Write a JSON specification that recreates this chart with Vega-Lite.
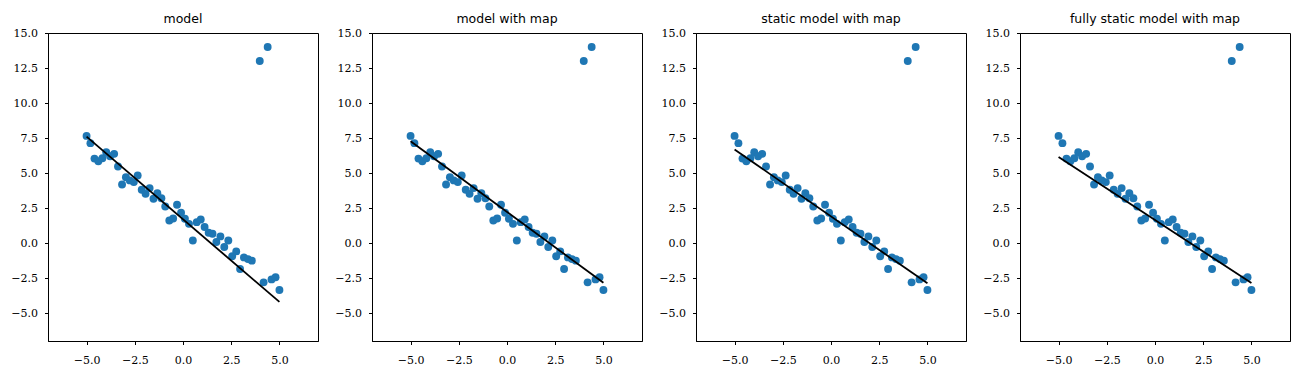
{
  "$schema": "https://vega.github.io/schema/vega-lite/v6.json",
  "padding": {"left": 10, "top": 12, "right": 5, "bottom": 5},
  "bounds": "flush",
  "spacing": 54,
  "datasets": {
    "pts": [
      {"x": -5.00, "y": 7.65}, {"x": -4.80, "y": 7.13}, {"x": -4.59, "y": 6.03}, {"x": -4.39, "y": 5.84},
      {"x": -4.18, "y": 6.05}, {"x": -3.98, "y": 6.49}, {"x": -3.78, "y": 6.2}, {"x": -3.57, "y": 6.37},
      {"x": -3.37, "y": 5.46}, {"x": -3.16, "y": 4.18}, {"x": -2.96, "y": 4.70}, {"x": -2.76, "y": 4.47},
      {"x": -2.55, "y": 4.35}, {"x": -2.35, "y": 4.82}, {"x": -2.14, "y": 3.80}, {"x": -1.94, "y": 3.51},
      {"x": -1.73, "y": 3.92}, {"x": -1.53, "y": 3.16}, {"x": -1.33, "y": 3.56}, {"x": -1.12, "y": 3.20},
      {"x": -0.92, "y": 2.61}, {"x": -0.71, "y": 1.61}, {"x": -0.51, "y": 1.75}, {"x": -0.31, "y": 2.73},
      {"x": -0.10, "y": 2.16}, {"x": 0.10, "y": 1.73}, {"x": 0.31, "y": 1.37}, {"x": 0.51, "y": 0.18},
      {"x": 0.71, "y": 1.49}, {"x": 0.92, "y": 1.68}, {"x": 1.12, "y": 1.14}, {"x": 1.33, "y": 0.73},
      {"x": 1.53, "y": 0.66}, {"x": 1.73, "y": 0.07}, {"x": 1.94, "y": 0.47}, {"x": 2.14, "y": -0.29},
      {"x": 2.35, "y": 0.18}, {"x": 2.55, "y": -0.95}, {"x": 2.76, "y": -0.6}, {"x": 2.96, "y": -1.86},
      {"x": 3.16, "y": -1.03}, {"x": 3.37, "y": -1.15}, {"x": 3.57, "y": -1.26}, {"x": 3.98, "y": 13.0},
      {"x": 4.18, "y": -2.81}, {"x": 4.39, "y": 14.0}, {"x": 4.59, "y": -2.6}, {"x": 4.80, "y": -2.45},
      {"x": 5.00, "y": -3.36}
    ],
    "lines": [
      {"panel": "model", "x": -5, "y": 7.6}, {"panel": "model", "x": 5, "y": -4.21},
      {"panel": "model with map", "x": -5, "y": 7.27}, {"panel": "model with map", "x": 5, "y": -2.84},
      {"panel": "static model with map", "x": -5, "y": 6.68}, {"panel": "static model with map", "x": 5, "y": -2.88},
      {"panel": "fully static model with map", "x": -5, "y": 6.15}, {"panel": "fully static model with map", "x": 5, "y": -2.86}
    ]
  },
  "hconcat": [
    {
      "width": 270, "height": 308, "title": "model",
      "encoding": {
        "x": {"field": "x", "type": "quantitative", "scale": {"domain": [-7, 7], "nice": false, "zero": false}, "axis": {"values": [-5, -2.5, 0, 2.5, 5], "format": ".1f", "title": null}},
        "y": {"field": "y", "type": "quantitative", "scale": {"domain": [-7, 15], "nice": false, "zero": false}, "axis": {"values": [-5, -2.5, 0, 2.5, 5, 7.5, 10, 12.5, 15], "format": ".1f", "title": null}}
      },
      "layer": [
        {"data": {"name": "pts"}, "mark": {"type": "circle", "size": 62, "opacity": 1, "color": "#1f77b4"}},
        {"data": {"name": "lines"}, "transform": [{"filter": "datum.panel === 'model'"}], "mark": {"type": "line", "color": "black", "strokeWidth": 1.8}}
      ]
    },
    {
      "width": 270, "height": 308, "title": "model with map",
      "encoding": {
        "x": {"field": "x", "type": "quantitative", "scale": {"domain": [-7, 7], "nice": false, "zero": false}, "axis": {"values": [-5, -2.5, 0, 2.5, 5], "format": ".1f", "title": null}},
        "y": {"field": "y", "type": "quantitative", "scale": {"domain": [-7, 15], "nice": false, "zero": false}, "axis": {"values": [-5, -2.5, 0, 2.5, 5, 7.5, 10, 12.5, 15], "format": ".1f", "title": null}}
      },
      "layer": [
        {"data": {"name": "pts"}, "mark": {"type": "circle", "size": 62, "opacity": 1, "color": "#1f77b4"}},
        {"data": {"name": "lines"}, "transform": [{"filter": "datum.panel === 'model with map'"}], "mark": {"type": "line", "color": "black", "strokeWidth": 1.8}}
      ]
    },
    {
      "width": 270, "height": 308, "title": "static model with map",
      "encoding": {
        "x": {"field": "x", "type": "quantitative", "scale": {"domain": [-7, 7], "nice": false, "zero": false}, "axis": {"values": [-5, -2.5, 0, 2.5, 5], "format": ".1f", "title": null}},
        "y": {"field": "y", "type": "quantitative", "scale": {"domain": [-7, 15], "nice": false, "zero": false}, "axis": {"values": [-5, -2.5, 0, 2.5, 5, 7.5, 10, 12.5, 15], "format": ".1f", "title": null}}
      },
      "layer": [
        {"data": {"name": "pts"}, "mark": {"type": "circle", "size": 62, "opacity": 1, "color": "#1f77b4"}},
        {"data": {"name": "lines"}, "transform": [{"filter": "datum.panel === 'static model with map'"}], "mark": {"type": "line", "color": "black", "strokeWidth": 1.8}}
      ]
    },
    {
      "width": 270, "height": 308, "title": "fully static model with map",
      "encoding": {
        "x": {"field": "x", "type": "quantitative", "scale": {"domain": [-7, 7], "nice": false, "zero": false}, "axis": {"values": [-5, -2.5, 0, 2.5, 5], "format": ".1f", "title": null}},
        "y": {"field": "y", "type": "quantitative", "scale": {"domain": [-7, 15], "nice": false, "zero": false}, "axis": {"values": [-5, -2.5, 0, 2.5, 5, 7.5, 10, 12.5, 15], "format": ".1f", "title": null}}
      },
      "layer": [
        {"data": {"name": "pts"}, "mark": {"type": "circle", "size": 62, "opacity": 1, "color": "#1f77b4"}},
        {"data": {"name": "lines"}, "transform": [{"filter": "datum.panel === 'fully static model with map'"}], "mark": {"type": "line", "color": "black", "strokeWidth": 1.8}}
      ]
    }
  ],
  "config": {
    "background": "white",
    "view": {"stroke": "black", "strokeWidth": 1},
    "axis": {"domainColor": "black", "domainWidth": 1, "tickColor": "black", "tickWidth": 1, "tickSize": 3.5, "labelColor": "black", "labelFont": "DejaVu Serif", "labelFontSize": 11, "grid": false, "labelOverlap": false, "labelFlush": false},
    "axisY": {"labelPadding": 7},
    "axisX": {"labelPadding": 10},
    "title": {"font": "DejaVu Sans", "fontSize": 12.5, "fontWeight": "normal", "color": "black", "offset": 2}
  }
}
